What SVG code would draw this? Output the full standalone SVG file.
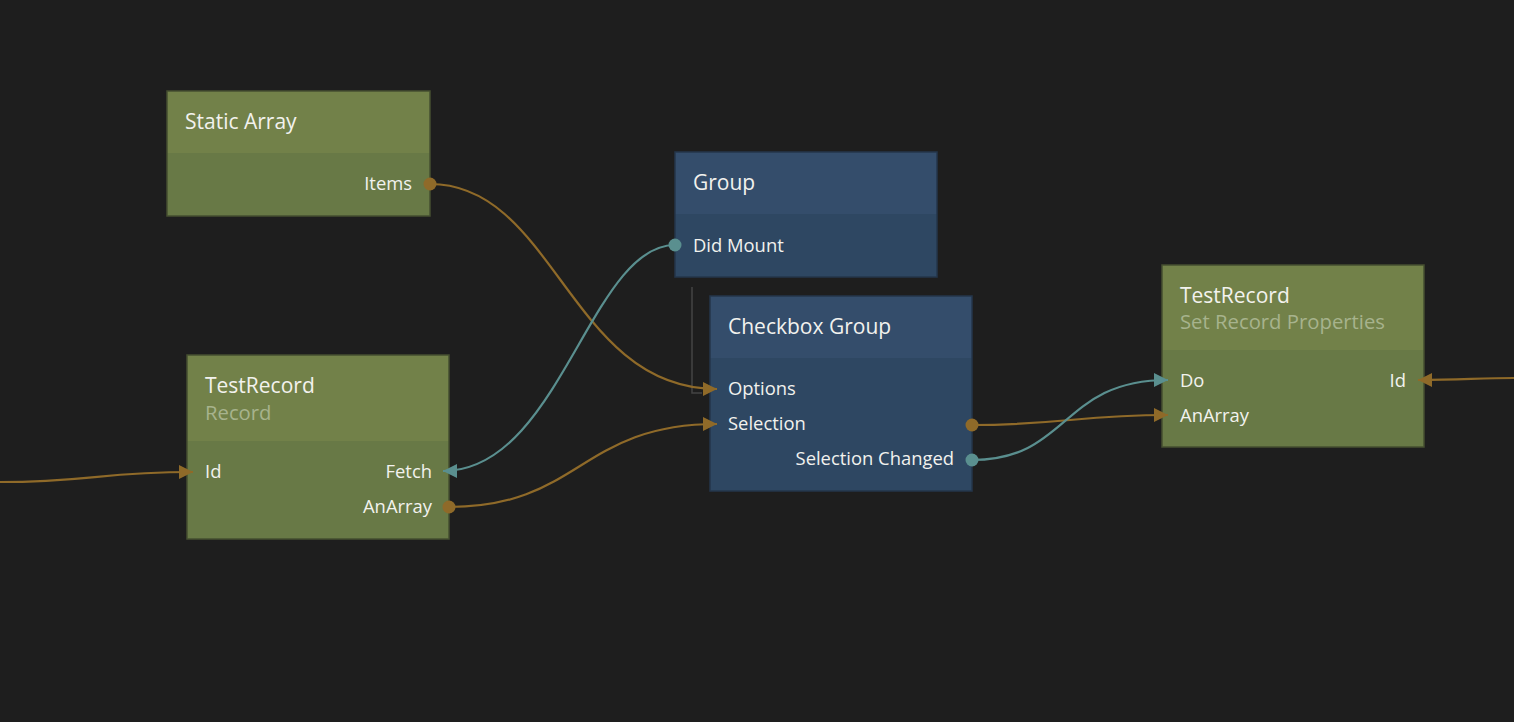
<svg xmlns="http://www.w3.org/2000/svg" width="1514" height="722" viewBox="0 0 1514 722">
<defs>
<style>
.bg{fill:#1e1e1e}
.gh{fill:#728149}
.gb{fill:#687946}
.gbd{fill:none;stroke:#454f30;stroke-width:1.5}
.bh{fill:#344d6b}
.bb{fill:#2e4762}
.bbd{fill:none;stroke:#24364b;stroke-width:1.5}
text{font-family:"Open Sans","Noto Sans","Liberation Sans",sans-serif}
.t{font-size:21px;fill:#f2f2ee;font-weight:500}
.s{font-size:20.3px;fill:#a7b38d}
.p{font-size:18.4px;fill:#f2f2ee}
.r{text-anchor:end}
.co{fill:none;stroke:#8f6a29;stroke-width:2.2}
.ct{fill:none;stroke:#5a8f8f;stroke-width:2.2}
.do{fill:#8f6a29}
.dt{fill:#5a8f8f}
</style>
<marker id="ao" markerUnits="userSpaceOnUse" markerWidth="14" markerHeight="14" refX="12" refY="6" orient="auto" viewBox="0 0 12 12"><path d="M0,0 L12,6 L0,12 z" fill="#8f6a29"/></marker>
<marker id="at" markerUnits="userSpaceOnUse" markerWidth="14" markerHeight="14" refX="12" refY="6" orient="auto" viewBox="0 0 12 12"><path d="M0,0 L12,6 L0,12 z" fill="#5a8f8f"/></marker>
</defs>
<rect class="bg" x="0" y="0" width="1514" height="722"/>

<polyline points="692,287 692,393 702,393" fill="none" stroke="#444" stroke-width="1.5"/>

<g id="n-static-array">
<rect class="gh" x="167" y="91" width="263" height="62"/>
<rect class="gb" x="167" y="153" width="263" height="63"/>
<rect class="gbd" x="167" y="91" width="263" height="125"/>
<text class="t" x="185" y="129">Static Array</text>
<text class="p r" x="412" y="190">Items</text>
</g>

<g id="n-group">
<rect class="bh" x="675" y="152" width="262" height="62"/>
<rect class="bb" x="675" y="214" width="262" height="63"/>
<rect class="bbd" x="675" y="152" width="262" height="125"/>
<text class="t" x="693" y="190">Group</text>
<text class="p" x="693" y="252">Did Mount</text>
</g>

<g id="n-checkbox-group">
<rect class="bh" x="710" y="296" width="262" height="62"/>
<rect class="bb" x="710" y="358" width="262" height="133"/>
<rect class="bbd" x="710" y="296" width="262" height="195"/>
<text class="t" x="728" y="334">Checkbox Group</text>
<text class="p" x="728" y="395">Options</text>
<text class="p" x="728" y="430">Selection</text>
<text class="p r" x="954" y="465">Selection Changed</text>
</g>

<g id="n-testrecord-record">
<rect class="gh" x="187" y="355" width="262" height="86"/>
<rect class="gb" x="187" y="441" width="262" height="98"/>
<rect class="gbd" x="187" y="355" width="262" height="184"/>
<text class="t" x="205" y="393">TestRecord</text>
<text class="s" x="205" y="420">Record</text>
<text class="p" x="205" y="478">Id</text>
<text class="p r" x="432" y="478">Fetch</text>
<text class="p r" x="432" y="513">AnArray</text>
</g>

<g id="n-testrecord-set">
<rect class="gh" x="1162" y="265" width="262" height="85"/>
<rect class="gb" x="1162" y="350" width="262" height="97"/>
<rect class="gbd" x="1162" y="265" width="262" height="182"/>
<text class="t" x="1180" y="303">TestRecord</text>
<text class="s" x="1180" y="329">Set Record Properties</text>
<text class="p" x="1180" y="387">Do</text>
<text class="p r" x="1406" y="387">Id</text>
<text class="p" x="1180" y="422">AnArray</text>
</g>

<g id="connectors">
<path class="co" d="M430,184 C555,184 570,389 717,389" marker-end="url(#ao)"/>
<path class="ct" d="M675,245 C590,245 560,471 443,471" marker-end="url(#at)"/>
<path class="co" d="M449,507 C580,507 580,424 717,424" marker-end="url(#ao)"/>
<path class="co" d="M0,482 C90,482 100,472 193,472" marker-end="url(#ao)"/>
<path class="co" d="M972,425 C1060,425 1080,415 1168,415" marker-end="url(#ao)"/>
<path class="ct" d="M972,460 C1070,460 1060,380 1168,380" marker-end="url(#at)"/>
<path class="co" d="M1514,378 C1480,378 1460,380 1418,380" marker-end="url(#ao)"/>
<circle class="do" cx="430" cy="184" r="6.5"/>
<circle class="dt" cx="675" cy="245" r="6.5"/>
<circle class="do" cx="449" cy="507" r="6.5"/>
<circle class="do" cx="972" cy="425" r="6.5"/>
<circle class="dt" cx="972" cy="460" r="6.5"/>
</g>
</svg>
